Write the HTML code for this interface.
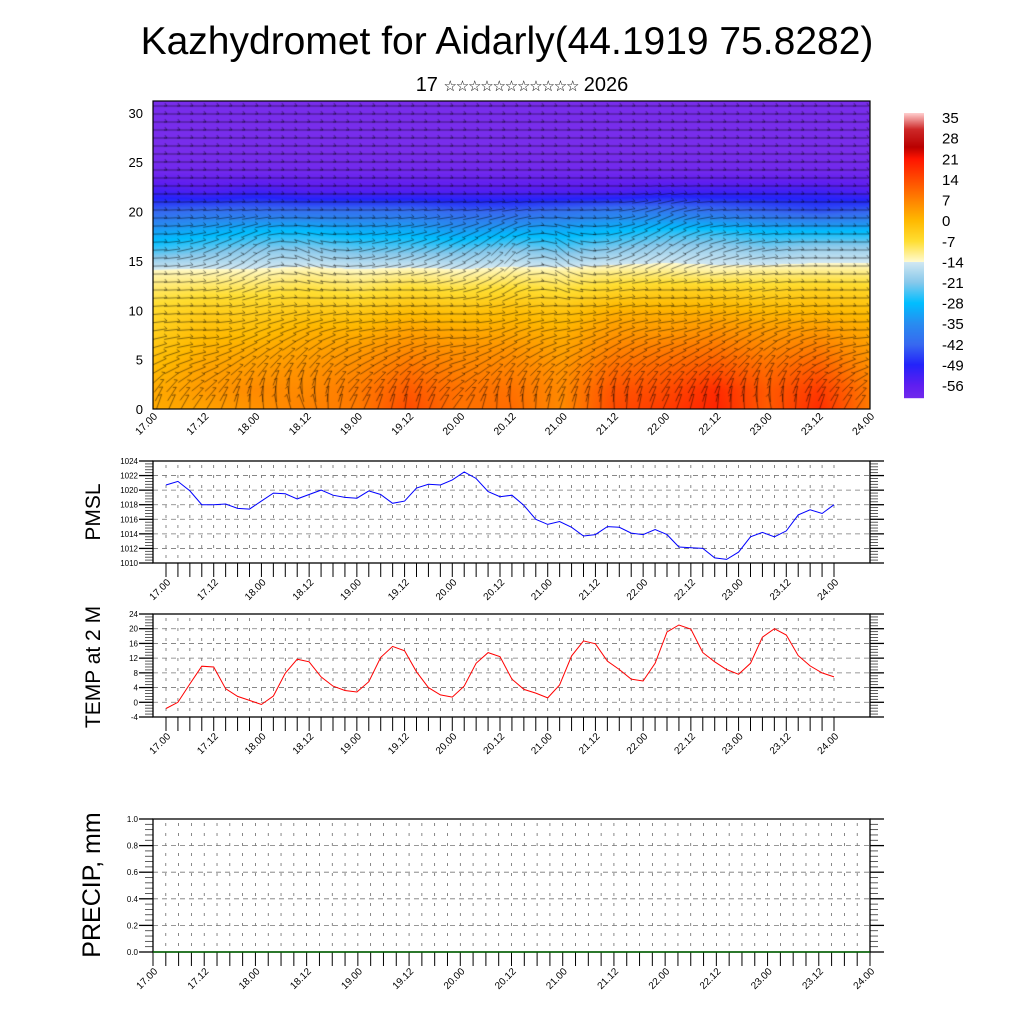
<!DOCTYPE html>
<html><head><meta charset="utf-8"><style>
body{margin:0;background:#fff;}
#root{position:relative;width:1024px;height:1024px;overflow:hidden;font-family:"Liberation Sans","Noto Sans CJK SC",sans-serif;}
#hm{position:absolute;left:153px;top:101px;}
svg{position:absolute;left:0;top:0;}
</style></head><body>
<div id="root">
<canvas id="hm" width="717" height="308"></canvas>
<svg id="sv" width="1024" height="1024">
<text x="507" y="54" font-size="39" text-anchor="middle" font-family="Liberation Sans, sans-serif">Kazhydromet for Aidarly(44.1919 75.8282)</text>
<text x="522" y="91" font-size="20" text-anchor="middle" font-family="Liberation Sans, DejaVu Sans, sans-serif">17 <tspan font-size="15" letter-spacing="-1.2">☆☆☆☆☆☆☆☆☆☆☆</tspan> 2026</text>
</svg>
</div>
<script>
// ---- data ----
const heights = [0,2,4,6,8,10,12,14,16,18,20,22,24,26,28,30,32];
const crossTimes = ["17.00","17.12","18.00","18.12","19.00","19.12","20.00","20.12","21.00","21.12","22.00","22.12","23.00","23.12","24.00"];
const tempGrid = [
[2,3,5,7,8,14,9,10,6,14,16,19,12,18,8],
[2,4,6,6,8,12,9,9,6,13,14,18,12,16,8],
[0,3,4,5,6,9,7,7,5,10,11,13,10,12,6],
[-2,1,2,3,4,6,5,5,3,7,8,9,7,8,4],
[-4,-1,-1,1,1,3,2,2,1,4,4,5,4,4,2],
[-6,-4,-4,-3,-3,-1,-2,-1,-2,1,1,1,0,0,-1],
[-9,-8,-8,-7,-8,-6,-7,-6,-7,-5,-4,-4,-5,-4,-5],
[-13,-13,-13,-12,-13,-12,-13,-12,-12,-11,-11,-12,-11,-11,-11],
[-24,-22,-20,-20,-22,-22,-22,-20,-22,-20,-18,-18,-20,-18,-18],
[-32,-30,-28,-28,-30,-30,-32,-30,-30,-28,-26,-26,-28,-28,-28],
[-42,-40,-40,-40,-40,-40,-42,-42,-40,-38,-38,-40,-42,-44,-42],
[-52,-54,-52,-54,-54,-54,-54,-54,-54,-54,-52,-52,-52,-52,-54],
[-60,-60,-60,-60,-60,-60,-60,-60,-60,-60,-60,-60,-60,-60,-60],
[-62,-62,-62,-62,-62,-62,-62,-62,-62,-62,-62,-62,-62,-62,-62],
[-62,-62,-62,-62,-62,-62,-62,-62,-62,-62,-62,-62,-62,-62,-62],
[-62,-62,-62,-62,-62,-62,-62,-62,-62,-62,-62,-62,-62,-62,-62],
[-62,-62,-62,-62,-62,-62,-62,-62,-62,-62,-62,-62,-62,-62,-62]];
const windAngle = [
[80,60,100,120,70,90,60,110,80,100,70,90,110,80,60],
[60,40,80,100,50,70,40,80,60,80,60,70,90,60,40],
[30,20,50,60,30,40,20,50,40,50,40,40,60,30,20],
[20,10,30,40,20,20,10,30,20,30,20,30,40,20,10],
[10,0,20,20,10,10,0,20,10,20,10,20,20,10,0],
[5,0,10,10,5,5,0,10,5,10,5,10,10,5,0],
[0,5,20,-10,5,0,10,30,-20,10,0,5,10,0,0],
[0,10,30,-20,5,10,20,40,-30,10,20,10,5,0,0],
[0,20,40,-30,10,20,30,50,-40,20,40,20,10,0,0],
[0,10,20,-10,5,10,20,30,-20,10,30,10,5,0,0],
[0,5,5,0,0,5,5,10,0,5,20,5,0,0,0],
[0,0,0,0,0,0,0,0,0,0,5,0,0,0,0],
[0,0,0,0,0,0,0,0,0,0,0,0,0,0,0],
[0,0,0,0,0,0,0,0,0,0,0,0,0,0,0],
[0,0,0,0,0,0,0,0,0,0,0,0,0,0,0],
[0,0,0,0,0,0,0,0,0,0,0,0,0,0,0],
[0,0,0,0,0,0,0,0,0,0,0,0,0,0,0]];
const pmsl = [1020.7,1021.2,1019.9,1018,1018,1018.1,1017.5,1017.4,1018.5,1019.6,1019.5,1018.8,1019.4,1020,1019.3,1019,1018.9,1019.9,1019.4,1018.2,1018.5,1020.3,1020.8,1020.7,1021.4,1022.5,1021.6,1019.8,1019.1,1019.3,1017.9,1016,1015.3,1015.7,1014.9,1013.7,1013.9,1015,1014.9,1014.1,1013.9,1014.6,1013.9,1012.2,1012.1,1012,1010.7,1010.5,1011.5,1013.6,1014.2,1013.6,1014.4,1016.6,1017.3,1016.8,1018];
const t2m = [-1.7,0,5,9.8,9.6,3.7,1.6,0.5,-0.6,1.7,7.9,11.7,11,6.9,4.4,3.2,2.8,5.6,12.2,15.2,14,8.3,4,2,1.4,4.4,10.6,13.5,12.4,6.3,3.5,2.5,1.2,4.7,12.6,16.7,15.9,11.2,8.9,6.3,5.8,10.6,19.1,21,19.9,13.5,11,8.9,7.6,10.6,17.7,20,18.3,12.7,9.9,8,6.9];
const precip = [0,0,0,0,0,0,0,0,0,0,0,0,0,0,0,0,0,0,0,0,0,0,0,0,0,0,0,0,0,0,0,0,0,0,0,0,0,0,0,0,0,0,0,0,0,0,0,0,0,0,0,0,0,0,0,0,0];
const timeLabels = ["17.00","17.12","18.00","18.12","19.00","19.12","20.00","20.12","21.00","21.12","22.00","22.12","23.00","23.12","24.00"];
const pmslTicks = [1010,1012,1014,1016,1018,1020,1022,1024];
const tempTicks = [-4,0,4,8,12,16,20,24];
const precipTicks = [0,0.2,0.4,0.6,0.8,1.0];
const crossTicks = [0,5,10,15,20,25,30];
const cbarLabels = [35,28,21,14,7,0,-7,-14,-21,-28,-35,-42,-49,-56];

// ---- colormap ----
const cmap=[[36.5,255,205,205],[31,205,40,40],[25,185,0,0],[21,255,20,0],[14,255,75,0],[7,255,130,0],[0,255,185,0],[-7,255,222,50],[-13.9,255,250,205],[-14,210,232,242],[-21,135,200,235],[-28,0,190,255],[-35,40,140,240],[-42,55,105,240],[-49,35,35,250],[-56,95,30,240],[-62,120,45,235]];
function col(v){
  if(v>=cmap[0][0])return cmap[0].slice(1);
  for(let i=0;i<cmap.length-1;i++){const a=cmap[i],b=cmap[i+1];
    if(v<=a[0]&&v>=b[0]){const t=(a[0]-v)/(a[0]-b[0]);return [a[1]+(b[1]-a[1])*t,a[2]+(b[2]-a[2])*t,a[3]+(b[3]-a[3])*t];}}
  return cmap[cmap.length-1].slice(1);
}
const NS="http://www.w3.org/2000/svg";
const sv=document.getElementById('sv');
function el(tag,attrs,parent){const e=document.createElementNS(NS,tag);for(const k in attrs)e.setAttribute(k,attrs[k]);(parent||sv).appendChild(e);return e;}

// ---- cross section ----
const HX0=153,HX1=870,HY0=101,HY1=409,ZMAX=31.2;
const hxs=i=>HX0+(HX1-HX0)*i/(crossTimes.length-1);
const hys=z=>HY1-(HY1-HY0)*z/ZMAX;
function grid(g,fx,fz){
  const nc=crossTimes.length-1;let c=Math.max(0,Math.min(nc-0.0001,fx));let ci=Math.floor(c),ct=c-ci;
  let r=fz/2;r=Math.max(0,Math.min(heights.length-1.0001,r));let ri=Math.floor(r),rt=r-ri;
  const a=g[ri][ci]*(1-ct)+g[ri][ci+1]*ct,b=g[ri+1][ci]*(1-ct)+g[ri+1][ci+1]*ct;return a*(1-rt)+b*rt;
}
const cv=document.getElementById('hm'),cx=cv.getContext('2d');
const img=cx.createImageData(717,308);
for(let py=0;py<308;py++){const z=(HY1-(HY0+py))/(HY1-HY0)*ZMAX;
  for(let px=0;px<717;px++){const fx=px/716*(crossTimes.length-1);const c=col(grid(tempGrid,fx,z));const o=(py*717+px)*4;img.data[o]=c[0];img.data[o+1]=c[1];img.data[o+2]=c[2];img.data[o+3]=255;}}
cx.putImageData(img,0,0);
cx.strokeStyle='rgba(0,0,0,0.8)';cx.lineWidth=0.6;
for(let py=5;py<308;py+=8){const z=(HY1-(HY0+py))/(HY1-HY0)*ZMAX;
  for(let px=6;px<717;px+=13){const fx=px/716*(crossTimes.length-1);const a=grid(windAngle,fx,z)*Math.PI/180;
    const dx=Math.cos(a)*8,dy=-Math.sin(a)*8;cx.beginPath();cx.moveTo(px-dx,py-dy);cx.lineTo(px+dx,py+dy);
    cx.lineTo(px+dx+Math.cos(a+2.2)*3.5,py+dy-Math.sin(a+2.2)*3.5);cx.stroke();}}
el('rect',{x:HX0,y:HY0,width:HX1-HX0,height:HY1-HY0,fill:'none',stroke:'#000','stroke-width':1.2,});
crossTicks.forEach(v=>{const y=hys(v);
  const t=el('text',{x:143,y:y+5,'font-size':13,'text-anchor':'end'});t.textContent=v;
  
  });
crossTimes.forEach((s,i)=>{const x=hxs(i);
  const t=el('text',{x:0,y:0,'font-size':10.5,'text-anchor':'end',transform:`translate(${x+5},${417}) rotate(-45)`});t.textContent=s;
  
  });

// ---- colorbar ----
const CB0=113,CB1=398,CBtop=36.4,CBbot=-60.4;
const cby=v=>CB0+(CBtop-v)/(CBtop-CBbot)*(CB1-CB0);
for(let y=CB0;y<CB1;y++){const v=CBtop-(y-CB0)/(CB1-CB0)*(CBtop-CBbot);const c=col(v);
  const r=el('rect',{x:904,y:y,width:20,height:1.2,fill:`rgb(${c.map(Math.round).join(',')})`});
  
  }
cbarLabels.forEach(v=>{const t=el('text',{x:942,y:cby(v)+6,'font-size':15});t.textContent=v;
  
  });

// ---- line panels ----
function panel(o){
  const {x0,x1,y0,y1,vmin,vmax,ticks,fmt,title,titleY,titleSize,data,color,tx0,tx1,name,lblFont}=o;
  const ys=v=>y1-(v-vmin)/(vmax-vmin)*(y1-y0);
  const n=data.length;const xs=i=>tx0+(tx1-tx0)*i/(n-1);
  const g=el('g',{});
  for(let i=0;i<n;i++){el('line',{x1:xs(i),x2:xs(i),y1:y0+4,y2:y1,stroke:'#555','stroke-width':0.7,'stroke-dasharray':'3,7'},g);}
  ticks.forEach(v=>{el('line',{x1:x0,x2:x1,y1:ys(v),y2:ys(v),stroke:'#777','stroke-width':0.8,'stroke-dasharray':'5,4'},g);});
  const step=ticks[1]-ticks[0];
  for(let k=0;k<ticks.length;k++){const v=ticks[k],y=ys(v);
    el('line',{x1:x0-14,x2:x0,y1:y,y2:y,stroke:'#000','stroke-width':1.3},g);
    el('line',{x1:x1,x2:x1+14,y1:y,y2:y,stroke:'#000','stroke-width':1.3},g);
    if(k<ticks.length-1)for(let m=1;m<5;m++){const ym=ys(v+step*m/5);
      el('line',{x1:x0-8,x2:x0,y1:ym,y2:ym,stroke:'#333','stroke-width':0.8},g);
      el('line',{x1:x1,x2:x1+8,y1:ym,y2:ym,stroke:'#333','stroke-width':0.8},g);}
    const t=el('text',{x:x0-15,y:y+3,'font-size':8,'text-anchor':'end'},g);t.textContent=fmt(v);
    
    }
  for(let i=0;i<n;i++){el('line',{x1:xs(i),x2:xs(i),y1:y1,y2:y1+14,stroke:'#000','stroke-width':1},g);}
  timeLabels.forEach((s,k)=>{const x=tx0+(tx1-tx0)*k/(timeLabels.length-1);
    const t=el('text',{x:0,y:0,'font-size':lblFont,'text-anchor':'end',transform:`translate(${x+5},${y1+20}) rotate(-45)`},g);t.textContent=s;
    
    });
  el('rect',{x:x0,y:y0,width:x1-x0,height:y1-y0,fill:'none',stroke:'#000','stroke-width':1.3},g);
  const pts=data.map((v,i)=>xs(i).toFixed(1)+','+ys(v).toFixed(1)).join(' ');
  const pl=el('polyline',{points:pts,fill:'none',stroke:color,'stroke-width':color==='#006400'?1.5:1},g);
  
  
  const t=el('text',{x:0,y:0,'font-size':titleSize,'text-anchor':'middle',transform:`translate(${x0-53},${titleY}) rotate(-90)`},g);t.textContent=title;
  
  
}
panel({x0:153,x1:870,y0:461,y1:563,vmin:1010,vmax:1024,ticks:pmslTicks,fmt:v=>v,title:'PMSL',titleY:512,titleSize:21,data:pmsl,color:'#0000ff',tx0:166,tx1:834,name:'pmsl',lblFont:10});
panel({x0:153,x1:870,y0:614,y1:717,vmin:-4,vmax:24,ticks:tempTicks,fmt:v=>v,title:'TEMP at 2 M',titleY:667,titleSize:21,data:t2m,color:'#ff0000',tx0:166,tx1:834,name:'temp',lblFont:10});
panel({x0:153,x1:870,y0:819,y1:952,vmin:0,vmax:1,ticks:precipTicks,fmt:v=>v.toFixed(1),title:'PRECIP, mm',titleY:885,titleSize:25,data:precip,color:'#006400',tx0:153,tx1:870,name:'precip',lblFont:10});
</script>
</body></html>
